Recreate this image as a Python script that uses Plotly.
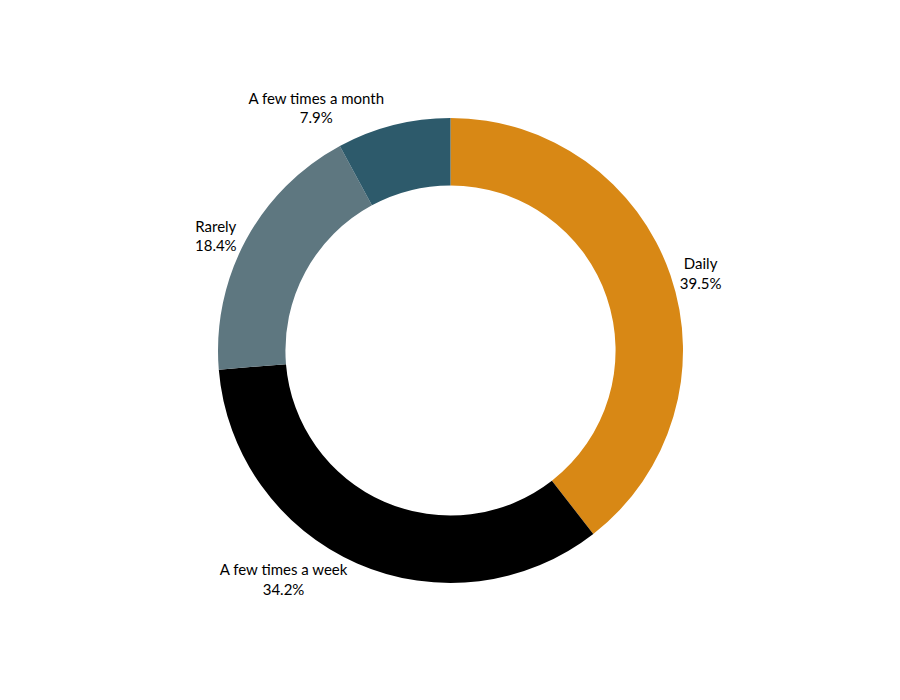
import plotly.graph_objects as go

labels = ["Daily", "A few times a week", "Rarely", "A few times a month"]
counts = [15, 13, 7, 3]
colors = ["#D88815", "#000000", "#5E7780", "#2D5A6B"]

fig = go.Figure(go.Pie(
    labels=labels,
    values=counts,
    hole=0.71,
    sort=False,
    direction="clockwise",
    rotation=0,
    marker=dict(colors=colors),
    textinfo="label+percent",
    textposition="outside",
    texttemplate="%{label}<br>%{percent:.1%}",
    textfont=dict(size=15, color="#000000", family="Lato"),
    showlegend=False,
))
fig.update_layout(
    width=900, height=700,
    margin=dict(l=110, r=50, t=110, b=125),
    paper_bgcolor="white",
    font=dict(family="Lato"),
)
fig.write_html("out.html")
